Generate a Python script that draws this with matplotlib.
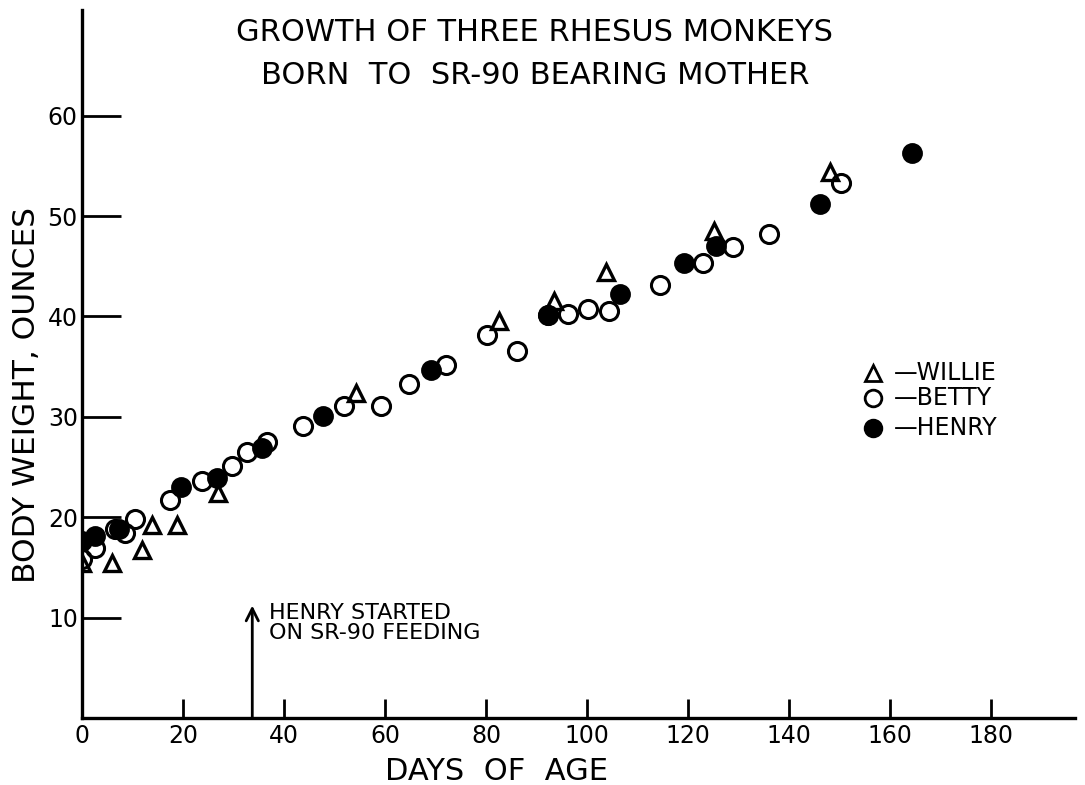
import matplotlib.pyplot as plt

# body weight (oz) against days of age
willie_days = [0, 5.9, 11.9, 13.9, 18.8, 26.9, 54.3, 82.6, 93.5, 103.8, 125, 148]
willie_oz = [15.4, 15.4, 16.7, 19.2, 19.2, 22.4, 32.4, 39.5, 41.5, 44.4, 48.5, 54.4]

betty_days = [0, 2.6, 6.6, 8.5, 10.4, 17.4, 23.8, 29.7, 32.7, 36.6, 43.8, 51.9,
              59.2, 64.8, 72.1, 80.2, 86.1, 92.3, 96.2, 100.2, 104.4, 114.4,
              122.9, 128.9, 136, 150.3]
betty_oz = [15.8, 16.9, 18.8, 18.4, 19.8, 21.7, 23.6, 25.1, 26.5, 27.5, 29.1, 31.1,
            31.1, 33.3, 35.2, 38.1, 36.6, 40.1, 40.2, 40.7, 40.5, 43.1,
            45.3, 46.9, 48.2, 53.3]

henry_days = [0, 2.6, 7.4, 19.6, 26.7, 35.6, 47.7, 69.1, 92.3, 106.5, 119.2, 125.5, 146, 164.2]
henry_oz = [17.6, 18.1, 18.8, 23.0, 23.9, 26.9, 30.1, 34.7, 40.1, 42.2, 45.3, 47.0, 51.2, 56.3]

x_ticks = [0, 20, 40, 60, 80, 100, 120, 140, 160, 180]
y_ticks = [10, 20, 30, 40, 50, 60]
feeding_day = 33.7

plt.rcParams['font.family'] = ['DejaVu Sans']

fig = plt.figure(figsize=(10.85, 7.85), dpi=100)
ax = fig.add_axes([0.0756, 0.0854, 0.9154, 0.9016])

ax.plot(henry_days, henry_oz, 'o', ms=13, mfc='black', mec='black', mew=2, zorder=3)
ax.plot(betty_days, betty_oz, 'o', ms=13, mfc='none', mec='black', mew=2.2, zorder=4)
ax.plot(willie_days, willie_oz, '^', ms=12, mfc='none', mec='black', mew=2.4, zorder=5)

ax.set_xlim(0, 196.6)
ax.set_ylim(0, 70.5)
for s in ['top', 'right']:
    ax.spines[s].set_visible(False)
for s in ['left', 'bottom']:
    ax.spines[s].set_linewidth(2.4)

ax.set_xticks(x_ticks)
ax.set_yticks(y_ticks)
ax.tick_params(axis='x', direction='in', length=14, width=2, labelsize=17, pad=4)
ax.tick_params(axis='y', direction='in', length=28, width=2, labelsize=17, pad=3)

ax.set_xlabel('DAYS  OF  AGE', fontsize=22)
ax.set_ylabel('BODY WEIGHT, OUNCES', fontsize=22.5)
ax.xaxis.set_label_coords(0.417, -0.055)
ax.yaxis.set_label_coords(-0.041, 0.456)

fig.text(0.493, 0.958, 'GROWTH OF THREE RHESUS MONKEYS', fontsize=22,
         ha='center', va='center')
fig.text(0.493, 0.904, 'BORN  TO  SR-90 BEARING MOTHER', fontsize=22,
         ha='center', va='center')

# arrow marking when Henry's feeding began
ax.annotate('', xy=(feeding_day, 11.2), xytext=(feeding_day, 0),
            arrowprops=dict(arrowstyle='->', lw=2, color='black',
                            mutation_scale=22, shrinkA=0, shrinkB=0))
ax.text(feeding_day + 3.3, 11.5, 'HENRY STARTED\nON SR-90 FEEDING', fontsize=16,
        ha='left', va='top', linespacing=1.05)

# hand-drawn key
key_x = 156.5
key_rows = [(34.4, '^', 'none', 'WILLIE'), (31.9, 'o', 'none', 'BETTY'),
            (28.9, 'o', 'black', 'HENRY')]
for ky, mk, fc, label in key_rows:
    ax.plot([key_x], [ky], mk, ms=11 if mk == '^' else 12, mfc=fc, mec='black',
            mew=2, clip_on=False)
    ax.text(key_x + 4.2, ky, '—' + label, fontsize=17, ha='left', va='center')

fig.savefig('out.png', dpi=100, facecolor='white')
